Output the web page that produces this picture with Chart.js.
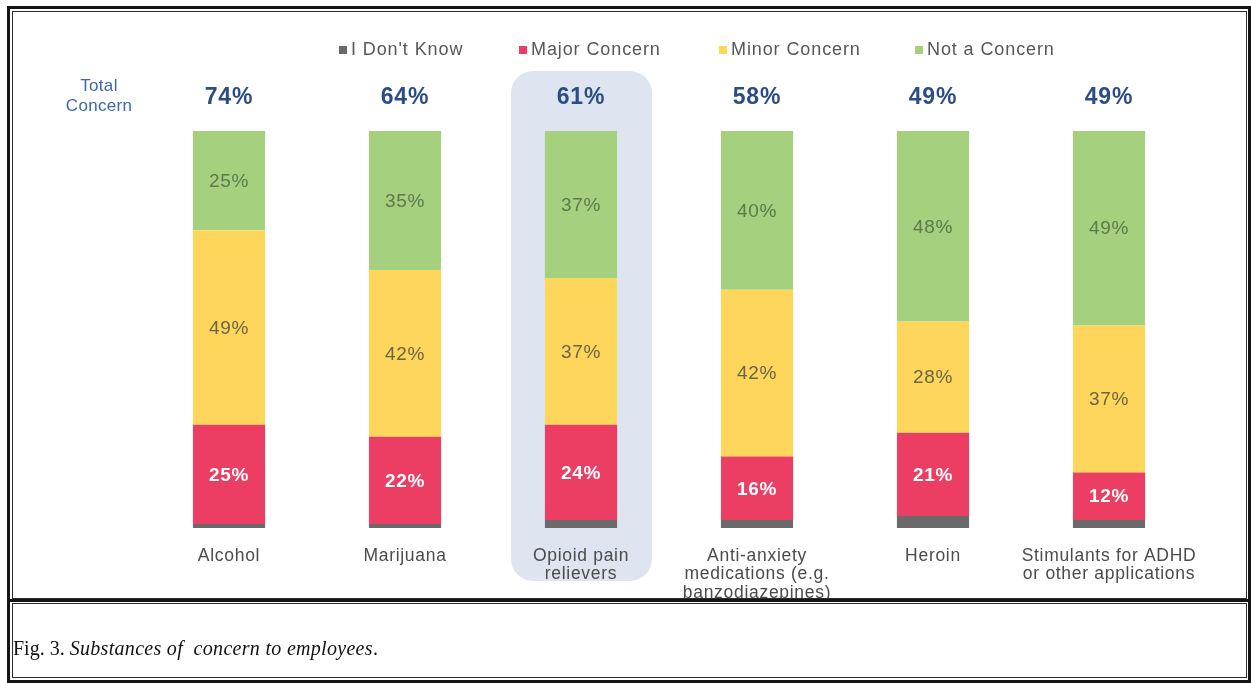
<!DOCTYPE html>
<html>
<head>
<meta charset="utf-8">
<title>Substances of concern to employees</title>
<script src="https://cdn.jsdelivr.net/npm/chart.js@4"></script>
<style>
  html, body { margin: 0; padding: 0; background: #fff; }
  #wrap { position: relative; width: 1251px; height: 683px; overflow: hidden; }
  #chart { position: absolute; left: 0; top: 0; }
  .frame { position: absolute; box-sizing: border-box; pointer-events: none; }
  #outer { left: 7px; top: 6px; width: 1244px; height: 677px; border: 3px solid #141414; }
  #panel { left: 12px; top: 11px; width: 1235px; height: 588px; border: 1px solid #2a2a2a; }
  #divider { left: 10px; top: 599px; width: 1238px; height: 3px; background: #141414; }
  #capbox { left: 12px; top: 603px; width: 1235px; height: 75px; border: 1px solid #2a2a2a; }
  #caption { position: absolute; left: 13px; top: 637px; font-family: "Liberation Serif", "Times New Roman", serif; font-size: 20px; color: #111; }
  #caption i { letter-spacing: 0.3px; }
</style>
</head>
<body>
<div id="wrap">
  <canvas id="chart" width="1251" height="683"></canvas>
  <div class="frame" id="outer"></div>
  <div class="frame" id="panel"></div>
  <div class="frame" id="divider"></div>
  <div class="frame" id="capbox"></div>
  <div id="caption">Fig. 3. <i>Substances of&nbsp; concern to employees</i>.</div>
</div>
<script>
// categories (multi-line labels under each bar)
const substances = [
  ["Alcohol"],
  ["Marijuana"],
  ["Opioid pain", "relievers"],
  ["Anti-anxiety", "medications (e.g.", "banzodiazepines)"],
  ["Heroin"],
  ["Stimulants for ADHD", "or other applications"]
];
// percentages per response, bottom to top of each stack
const dontKnow = [1, 1, 2, 2, 3, 2];
const majorConcern = [25, 22, 24, 16, 21, 12];
const minorConcern = [49, 42, 37, 42, 28, 37];
const notConcern = [25, 35, 37, 40, 48, 49];
const highlightIndex = 2;

const seriesNames = ["I Don't Know", "Major Concern", "Minor Concern", "Not a Concern"];
const seriesColours = ["#6a6a6a", "#ec3d62", "#fed65c", "#a5d07e"];
const labelColours = [null, "#ffffff", "#6b6446", "#5b7a4d"];

const sans = '"Liberation Sans", Arial, sans-serif';

function text(ctx, str, x, y, font, colour, spacing) {
  ctx.font = font;
  ctx.fillStyle = colour;
  ctx.letterSpacing = (spacing || 0) + "px";
  ctx.textAlign = "center";
  ctx.textBaseline = "middle";
  ctx.fillText(str, x, y);
}

// background box behind the highlighted category
const highlightBox = {
  id: "highlightBox",
  beforeDatasetsDraw(chart) {
    const ctx = chart.ctx;
    const x = chart.scales.x.getPixelForValue(highlightIndex);
    ctx.save();
    ctx.fillStyle = "#dee5f0";
    ctx.beginPath();
    ctx.roundRect(x - 70, 71, 141, 510, 22);
    ctx.fill();
    ctx.restore();
  }
};

// legend, totals, segment values and category names
const annotations = {
  id: "annotations",
  afterDatasetsDraw(chart) {
    const ctx = chart.ctx;
    const xs = chart.scales.x;
    ctx.save();

    // segment values
    chart.data.datasets.forEach((ds, di) => {
      if (!labelColours[di]) return;
      const meta = chart.getDatasetMeta(di);
      meta.data.forEach((bar, i) => {
        const cy = (bar.y + bar.base) / 2;
        const font = di === 1 ? "bold 19px " + sans : "19px " + sans;
        text(ctx, ds.data[i] + "%", bar.x, cy + 1, font, labelColours[di], 0.6);
      });
    });

    // total concern = major + minor
    text(ctx, "Total", 99, 86, "17px " + sans, "#3c69ad", 0.3);
    text(ctx, "Concern", 99, 106, "17px " + sans, "#3c69ad", 0.3);
    substances.forEach((s, i) => {
      const total = majorConcern[i] + minorConcern[i];
      text(ctx, total + "%", xs.getPixelForValue(i), 98, "bold 23px " + sans, "#2b4d86", 0.8);
    });

    // category names
    substances.forEach((lines, i) => {
      lines.forEach((ln, k) => {
        text(ctx, ln, xs.getPixelForValue(i), 556 + k * 18.5, "17.5px " + sans, "#4b4b4b", 0.7);
      });
    });

    // legend
    const legendX = [339, 519, 719, 915];
    seriesNames.forEach((name, i) => {
      ctx.fillStyle = seriesColours[i];
      ctx.fillRect(legendX[i], 46, 8, 8);
      ctx.font = "18px " + sans;
      ctx.letterSpacing = "0.9px";
      ctx.fillStyle = "#575757";
      ctx.textAlign = "left";
      ctx.textBaseline = "middle";
      ctx.fillText(name, legendX[i] + 12, 50);
    });

    ctx.restore();
  }
};

const seriesData = [dontKnow, majorConcern, minorConcern, notConcern];

const config = {
  type: "bar",
  data: {
    labels: substances,
    datasets: seriesNames.map((name, i) => ({
      label: name,
      data: seriesData[i],
      backgroundColor: seriesColours[i],
      borderWidth: 0,
      categoryPercentage: 1,
      barPercentage: 0.41
    }))
  },
  options: {
    responsive: false,
    animation: false,
    devicePixelRatio: 1,
    layout: { padding: { left: 141, right: 54, top: 131, bottom: 155 } },
    scales: {
      x: { stacked: true, display: false },
      y: { stacked: true, display: false, min: 0, max: 100 }
    },
    plugins: {
      legend: { display: false },
      tooltip: { enabled: false }
    }
  },
  plugins: [highlightBox, annotations]
};

const ctx = document.getElementById("chart").getContext("2d");
new Chart(ctx, config);
</script>
</body>
</html>
